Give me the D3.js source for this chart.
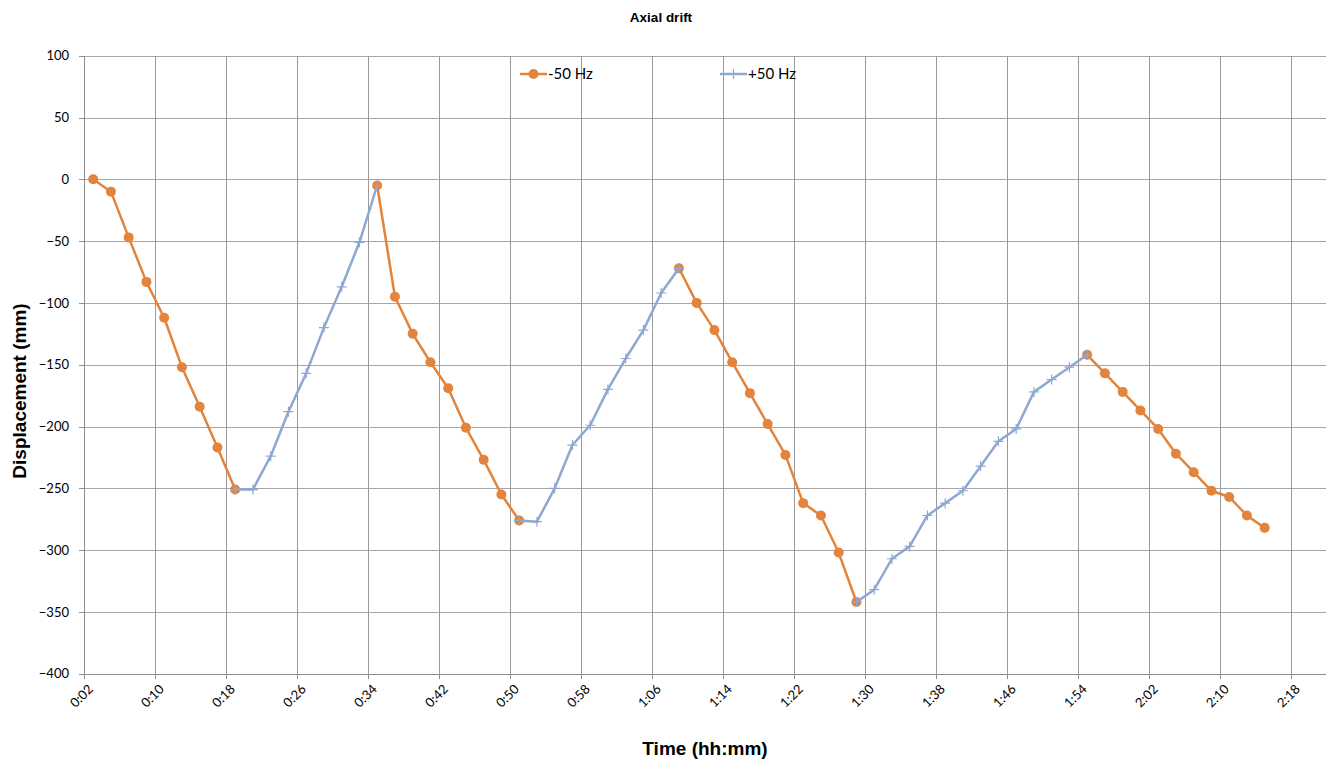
<!DOCTYPE html>
<html>
<head>
<meta charset="utf-8">
<title>Axial drift</title>
<script src="https://cdn.jsdelivr.net/npm/d3@7"></script>
<style>
  html, body { margin: 0; padding: 0; background: #fff; }
  svg { display: block; }
  .tick-label { font-family: Lato, "Open Sans", sans-serif; font-size: 13px; fill: #000; }
  .legend-label { font-family: Lato, "Open Sans", sans-serif; font-size: 15px; fill: #000; }
  .axis-title { font-family: "Liberation Sans", Arial, sans-serif; font-weight: bold; font-size: 19px; fill: #000; }
  .chart-title { font-family: "Liberation Sans", Arial, sans-serif; font-weight: bold; font-size: 13.5px; fill: #000; }
</style>
</head>
<body>
<svg id="chart" width="1326" height="760"></svg>
<script>
// Sample times, minutes after start
const timesMin = [
  3, 5, 7, 9, 11, 13, 15, 17, 19, 21, 23, 25, 27, 29, 31, 33, 35,
  37, 39, 41, 43, 45, 47, 49, 51, 53, 55, 57, 59, 61, 63, 65, 67, 69,
  71, 73, 75, 77, 79, 81, 83, 85, 87, 89, 91, 93, 95, 97, 99, 101, 103,
  105, 107, 109, 111, 113, 115, 117, 119, 121, 123, 125, 127, 129, 131, 133, 135
];

// Displacement (mm) while running at -50 Hz (null = not running)
const minus50Hz = [
  0, -10, -47, -83, -112, -152, -184, -217, -251, null, null, null, null, null, null, null, -5,
  -95, -125, -148, -169, -201, -227, -255, -276, null, null, null, null, null, null, null, null, -72,
  -100, -122, -148, -173, -198, -223, -262, -272, -302, -342, null, null, null, null, null, null, null,
  null, null, null, null, null, -142, -157, -172, -187, -202, -222, -237, -252, -257, -272, -282
];

// Displacement (mm) while running at +50 Hz (null = not running)
const plus50Hz = [
  null, null, null, null, null, null, null, null, -251, -251, -224, -188, -157, -120, -87, -51, -5,
  null, null, null, null, null, null, null, -276, -277, -250, -215, -199, -170, -145, -122, -92, -72,
  null, null, null, null, null, null, null, null, null, -342, -332, -307, -297, -272, -262, -252, -232,
  -212, -202, -172, -162, -152, -142, null, null, null, null, null, null, null, null, null, null
];

// Axis ticks
const xTicksMin = [2, 10, 18, 26, 34, 42, 50, 58, 66, 74, 82, 90, 98, 106, 114, 122, 130, 138];
const yTicks = [100, 50, 0, -50, -100, -150, -200, -250, -300, -350, -400];

const seriesNames = ["-50 Hz", "+50 Hz"];
const seriesColors = ["#E2843C", "#8EA8D3"];

const svg = d3.select("#chart");
const plot = { left: 84.3, top: 55.7, right: 1326.8, bottom: 673.7 };

const x = d3.scaleLinear().domain([2, 142]).range([plot.left, plot.right]);
const y = d3.scaleLinear().domain([-400, 100]).range([plot.bottom, plot.top]);

const fmtTime = m => `${Math.floor(m / 60)}:${String(m % 60).padStart(2, "0")}`;
const crisp = v => Math.round(v) + 0.5;

// Gridlines
const grid = svg.append("g").attr("shape-rendering", "crispEdges");
grid.selectAll("line.h").data(yTicks).join("line")
  .attr("x1", plot.left).attr("x2", 1326)
  .attr("y1", d => crisp(y(d))).attr("y2", d => crisp(y(d)))
  .attr("stroke", "#a6a6a6").attr("stroke-width", 1);
grid.selectAll("line.v").data(xTicksMin).join("line")
  .attr("y1", plot.top).attr("y2", plot.bottom)
  .attr("x1", d => crisp(x(d))).attr("x2", d => crisp(x(d)))
  .attr("stroke", "#9a9a9a").attr("stroke-width", 1);

// Y axis
const yAxis = d3.axisLeft(y).tickValues(yTicks).tickSize(5).tickPadding(10).tickSizeOuter(0);
const yG = svg.append("g").attr("transform", `translate(${crisp(plot.left) - 0.5},0)`).call(yAxis);
yG.select(".domain").attr("stroke", "#8c8c8c").attr("shape-rendering", "crispEdges");
yG.selectAll(".tick line").attr("stroke", "#8c8c8c").attr("shape-rendering", "crispEdges");
yG.selectAll(".tick text").attr("class", "tick-label").attr("font-family", null).attr("font-size", null);

// X axis
const xAxis = d3.axisBottom(x).tickValues(xTicksMin).tickFormat(fmtTime).tickSize(5).tickSizeOuter(0);
const xG = svg.append("g").attr("transform", `translate(0,${crisp(plot.bottom) - 0.5})`).call(xAxis);
xG.select(".domain").attr("stroke", "#8c8c8c").attr("shape-rendering", "crispEdges");
xG.selectAll(".tick line").attr("stroke", "#8c8c8c").attr("shape-rendering", "crispEdges");
xG.selectAll(".tick text")
  .attr("class", "tick-label").attr("font-family", null).attr("font-size", null)
  .attr("text-anchor", "end")
  .attr("dy", null)
  .attr("transform", "translate(9,16) rotate(-45)")
  .attr("x", 0).attr("y", 0);

// Series data
const rowsFor = vals => timesMin.map((t, i) => ({ t, v: vals[i] }));
const line = d3.line().defined(d => d.v !== null).x(d => x(d.t)).y(d => y(d.v));

// -50 Hz: orange line with round markers
const minusRows = rowsFor(minus50Hz);
svg.append("path").datum(minusRows)
  .attr("fill", "none").attr("stroke", seriesColors[0]).attr("stroke-width", 2.5)
  .attr("stroke-linejoin", "round").attr("d", line);
svg.append("g").selectAll("circle").data(minusRows.filter(d => d.v !== null)).join("circle")
  .attr("cx", d => x(d.t)).attr("cy", d => y(d.v)).attr("r", 5)
  .attr("fill", seriesColors[0]);

// +50 Hz: blue line with plus markers
const plusRows = rowsFor(plus50Hz);
svg.append("path").datum(plusRows)
  .attr("fill", "none").attr("stroke", seriesColors[1]).attr("stroke-width", 2.5)
  .attr("stroke-linejoin", "round").attr("d", line);
const plusMark = (sel, cx, cy) => sel.append("path")
  .attr("d", "M-5,0H5M0,-5V5")
  .attr("transform", `translate(${cx},${cy})`)
  .attr("stroke", seriesColors[1]).attr("stroke-width", 1.2).attr("fill", "none");
const plusG = svg.append("g");
plusRows.filter(d => d.v !== null).forEach(d => plusMark(plusG, x(d.t), y(d.v)));

// Legend
const legendItems = [
  { name: seriesNames[0], color: seriesColors[0], x0: 520, marker: "circle" },
  { name: seriesNames[1], color: seriesColors[1], x0: 720, marker: "plus" }
];
const legY = 74;
legendItems.forEach(item => {
  const g = svg.append("g");
  g.append("line").attr("x1", item.x0).attr("x2", item.x0 + 27)
    .attr("y1", legY).attr("y2", legY)
    .attr("stroke", item.color).attr("stroke-width", 2.5);
  if (item.marker === "circle") {
    g.append("circle").attr("cx", item.x0 + 13.5).attr("cy", legY).attr("r", 5).attr("fill", item.color);
  } else {
    plusMark(g, item.x0 + 13.5, legY);
  }
  g.append("text").attr("class", "legend-label")
    .attr("x", item.x0 + 28).attr("y", legY).attr("dy", "0.36em")
    .text(item.name);
});

// Titles
svg.append("text").attr("class", "chart-title")
  .attr("x", 661).attr("y", 22).attr("text-anchor", "middle").text("Axial drift");
svg.append("text").attr("class", "axis-title")
  .attr("x", 705).attr("y", 755).attr("text-anchor", "middle").text("Time (hh:mm)");
svg.append("text").attr("class", "axis-title")
  .attr("transform", `translate(26,391) rotate(-90)`)
  .attr("text-anchor", "middle").text("Displacement (mm)");
</script>
</body>
</html>
